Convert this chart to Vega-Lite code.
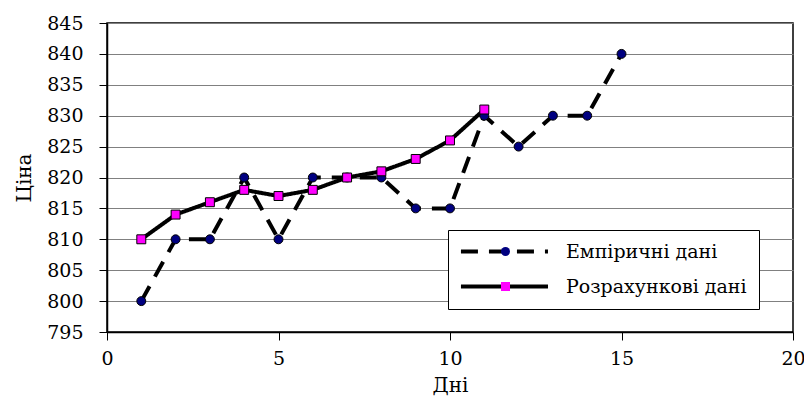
{
  "$schema": "https://vega.github.io/schema/vega-lite/v6.json",
  "autosize": {"type": "none"},
  "width": 686,
  "height": 309,
  "padding": {"left": 107, "top": 23, "right": 11, "bottom": 71},
  "background": "white",
  "config": {
    "font": "DejaVu Serif",
    "view": {"stroke": "black", "strokeWidth": 1.5},
    "axis": {
      "labelFont": "DejaVu Serif",
      "titleFont": "DejaVu Serif",
      "labelFontSize": 19,
      "titleFontSize": 20,
      "titleFontWeight": "normal",
      "labelColor": "black",
      "titleColor": "black",
      "domainColor": "black",
      "domainWidth": 1.5,
      "tickColor": "black",
      "tickSize": 8,
      "tickWidth": 1
    },
    "legend": {
      "labelFont": "DejaVu Serif",
      "labelFontSize": 19,
      "labelColor": "black",
      "labelLimit": 400
    }
  },
  "data": {
    "values": [
      {"day": 1, "price": 800, "series": "Емпіричні дані"},
      {"day": 2, "price": 810, "series": "Емпіричні дані"},
      {"day": 3, "price": 810, "series": "Емпіричні дані"},
      {"day": 4, "price": 820, "series": "Емпіричні дані"},
      {"day": 5, "price": 810, "series": "Емпіричні дані"},
      {"day": 6, "price": 820, "series": "Емпіричні дані"},
      {"day": 7, "price": 820, "series": "Емпіричні дані"},
      {"day": 8, "price": 820, "series": "Емпіричні дані"},
      {"day": 9, "price": 815, "series": "Емпіричні дані"},
      {"day": 10, "price": 815, "series": "Емпіричні дані"},
      {"day": 11, "price": 830, "series": "Емпіричні дані"},
      {"day": 12, "price": 825, "series": "Емпіричні дані"},
      {"day": 13, "price": 830, "series": "Емпіричні дані"},
      {"day": 14, "price": 830, "series": "Емпіричні дані"},
      {"day": 15, "price": 840, "series": "Емпіричні дані"},
      {"day": 1, "price": 810, "series": "Розрахункові дані"},
      {"day": 2, "price": 814, "series": "Розрахункові дані"},
      {"day": 3, "price": 816, "series": "Розрахункові дані"},
      {"day": 4, "price": 818, "series": "Розрахункові дані"},
      {"day": 5, "price": 817, "series": "Розрахункові дані"},
      {"day": 6, "price": 818, "series": "Розрахункові дані"},
      {"day": 7, "price": 820, "series": "Розрахункові дані"},
      {"day": 8, "price": 821, "series": "Розрахункові дані"},
      {"day": 9, "price": 823, "series": "Розрахункові дані"},
      {"day": 10, "price": 826, "series": "Розрахункові дані"},
      {"day": 11, "price": 831, "series": "Розрахункові дані"}
    ]
  },
  "encoding": {
    "x": {
      "field": "day",
      "type": "quantitative",
      "title": "Дні",
      "scale": {"domain": [0, 20], "nice": false, "zero": false},
      "axis": {"values": [0, 5, 10, 15, 20], "grid": false, "labelPadding": 9, "titlePadding": 7, "labelFlush": false}
    },
    "y": {
      "field": "price",
      "type": "quantitative",
      "title": "Ціна",
      "scale": {"domain": [795, 845], "nice": false, "zero": false},
      "axis": {"values": [795, 800, 805, 810, 815, 820, 825, 830, 835, 840, 845], "grid": true, "gridColor": "#808080", "gridWidth": 1.2, "gridOpacity": 1, "labelPadding": 16, "titlePadding": 12, "labelFlush": false}
    }
  },
  "layer": [
    {
      "mark": {"type": "line", "color": "black", "strokeWidth": 4, "strokeCap": "butt"},
      "encoding": {
        "strokeDash": {
          "field": "series",
          "type": "nominal",
          "scale": {"domain": ["Емпіричні дані", "Розрахункові дані"], "range": [[17, 11], [1, 0]]},
          "legend": {
            "title": null,
            "orient": "none",
            "legendX": 341,
            "legendY": 207,
            "padding": 12,
            "rowPadding": 15,
            "symbolType": "M-1.9,0H17.44",
            "symbolSize": 81,
            "symbolStrokeWidth": 4,
            "symbolStrokeColor": "black",
            "symbolFillColor": "transparent",
            "labelOffset": 87,
            "strokeColor": "black",
            "fillColor": "white",
            "cornerRadius": 0,
            "zindex": 1
          }
        }
      }
    },
    {
      "mark": {"type": "point", "filled": true, "stroke": "black", "strokeWidth": 1, "size": 80, "opacity": 1},
      "encoding": {
        "shape": {
          "field": "series",
          "type": "nominal",
          "scale": {"range": ["circle", "square"]},
          "legend": {
            "title": null,
            "orient": "none",
            "legendX": 341,
            "legendY": 207,
            "padding": 12,
            "rowPadding": 15,
            "symbolOffset": 36,
            "symbolStrokeColor": "black",
            "symbolStrokeWidth": 1,
            "symbolSize": 81,
            "symbolOpacity": 1,
            "labelExpr": "' '",
            "labelOpacity": 0,
            "labelOffset": 87,
            "zindex": 2
          }
        },
        "fill": {
          "field": "series",
          "type": "nominal",
          "scale": {"range": ["#000080", "#FF00FF"]},
          "legend": {
            "title": null,
            "orient": "none",
            "legendX": 341,
            "legendY": 207,
            "padding": 12,
            "rowPadding": 15,
            "symbolOffset": 36,
            "symbolStrokeColor": "black",
            "symbolStrokeWidth": 1,
            "symbolSize": 81,
            "symbolOpacity": 1,
            "labelExpr": "' '",
            "labelOpacity": 0,
            "labelOffset": 87,
            "zindex": 2
          }
        }
      }
    }
  ]
}
